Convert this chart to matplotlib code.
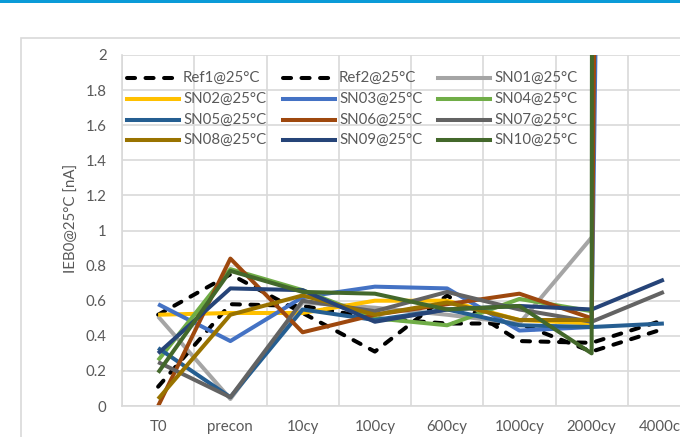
import numpy as np
import matplotlib
matplotlib.use("Agg")
import matplotlib.pyplot as plt
from matplotlib.patches import Rectangle
from matplotlib.lines import Line2D

plt.rcParams['font.family'] = ['Lato', 'DejaVu Sans']

# ---- data -------------------------------------------------------------
categories = ["T0", "precon", "10cy", "100cy", "600cy", "1000cy", "2000cy", "4000cy"]
nan = np.nan
ref1 = [0.52, 0.75, 0.53, 0.31, 0.63, 0.37, 0.36, 0.49]
ref2 = [0.11, 0.58, 0.57, 0.50, 0.47, 0.47, 0.31, 0.44]
sn01 = [0.51, 0.04, 0.59, 0.56, 0.52, 0.47, 0.96, nan]
sn02 = [0.52, 0.53, 0.53, 0.60, 0.60, 0.49, 0.47, nan]
sn03 = [0.58, 0.37, 0.62, 0.68, 0.67, 0.43, 0.45, 30.0]
sn04 = [0.26, 0.78, 0.66, 0.50, 0.46, 0.61, 0.54, nan]
sn05 = [0.33, 0.05, 0.55, 0.49, 0.55, 0.46, 0.45, 0.47]
sn06 = [0.00, 0.84, 0.42, 0.52, 0.58, 0.64, 0.50, 45.0]
sn07 = [0.25, 0.05, 0.60, 0.54, 0.65, 0.55, 0.48, 0.65]
sn08 = [0.04, 0.52, 0.63, 0.52, 0.59, 0.49, 0.49, nan]
sn09 = [0.30, 0.67, 0.66, 0.48, 0.55, 0.57, 0.55, 0.72]
sn10 = [0.19, 0.77, 0.65, 0.64, 0.55, 0.57, 0.30, 400.0]

series_names = ["Ref1@25°C", "Ref2@25°C", "SN01@25°C", "SN02@25°C", "SN03@25°C",
                "SN04@25°C", "SN05@25°C", "SN06@25°C", "SN07@25°C", "SN08@25°C",
                "SN09@25°C", "SN10@25°C"]
series_values = [ref1, ref2, sn01, sn02, sn03, sn04, sn05, sn06, sn07, sn08, sn09, sn10]
series_colors = ["#000000", "#000000", "#A5A5A5", "#FFC000", "#4472C4", "#70AD47",
                 "#255E91", "#9E480E", "#636363", "#997300", "#264478", "#43682B"]
series_dashed = [True, True] + [False] * 10

y_ticks = [0, 0.2, 0.4, 0.6, 0.8, 1, 1.2, 1.4, 1.6, 1.8, 2]
y_tick_labels = ["0", "0.2", "0.4", "0.6", "0.8", "1", "1.2", "1.4", "1.6", "1.8", "2"]
y_title = "IEB0@25°C [nA]"

# ---- layout helpers (pixel positions on a 680x437 canvas) --------------
W, H = 680, 437
GRID = "#D9D9D9"
TEXT = "#595959"
FS = 10.8
LW = 2.9


def fx(x):
    return x / W


def fy(y):
    return 1 - y / H


fig = plt.figure(figsize=(W / 100, H / 100), dpi=100)
fig.patch.set_facecolor("white")

# outer chart frame and the accent bar along the top edge
fig.patches.append(Rectangle((fx(20.5), fy(800)), fx(1000), (800 - 37.5) / H,
                             transform=fig.transFigure, fill=False,
                             edgecolor=GRID, lw=1.2))
fig.patches.append(Rectangle((0, fy(3)), 1, 3 / H, transform=fig.transFigure,
                             facecolor="#0A9BD8", edgecolor="none"))

ax = fig.add_axes([fx(122), fy(406), (700 - 122) / W, (406 - 55) / H])
ax.set_facecolor("none")

x = np.arange(len(categories))
for name, vals, col, dashed in zip(series_names, series_values, series_colors, series_dashed):
    if dashed:
        ax.plot(x, vals, color=col, lw=LW, dashes=(2.0, 2.6),
                dash_capstyle="round", dash_joinstyle="round", label=name)
    else:
        ax.plot(x, vals, color=col, lw=LW, solid_joinstyle="round",
                solid_capstyle="butt", label=name)

ax.set_xlim(-0.5, len(categories) - 0.5)
ax.set_ylim(0, 2)
ax.set_yticks(y_ticks, y_tick_labels)
ax.set_xticks(x, categories)
ax.set_xticks(np.arange(-0.5, len(categories), 1), minor=True)
ax.grid(axis="y", which="major", color=GRID, lw=1.2)
ax.grid(axis="x", which="minor", color=GRID, lw=1.2)
ax.grid(axis="x", which="major", visible=False)
ax.set_axisbelow(True)
ax.tick_params(which="both", length=0, labelsize=FS, labelcolor=TEXT)
ax.tick_params(axis="y", pad=11)
ax.tick_params(axis="x", pad=10)
for side in ["top", "right"]:
    ax.spines[side].set_visible(False)
for side in ["left", "bottom"]:
    ax.spines[side].set_color(GRID)
    ax.spines[side].set_linewidth(1.2)

fig.text(fx(72), fy(218), y_title, rotation=90, ha="center", va="center",
         color=TEXT, fontsize=FS)

# legend: three columns, four rows, no frame
col_x = [127, 283, 438]
row_y = [78, 99, 120, 140]
handle_len = 52
for i, (name, col, dashed) in enumerate(zip(series_names, series_colors, series_dashed)):
    r, c = divmod(i, 3)
    x0 = col_x[c]
    y0 = row_y[r]
    ln = Line2D([fx(x0), fx(x0 + handle_len)], [fy(y0), fy(y0)],
                transform=fig.transFigure, color=col, lw=LW)
    if dashed:
        ln.set_dashes((2.0, 2.6))
        ln.set_dash_capstyle("round")
    fig.lines.append(ln)
    fig.text(fx(x0 + handle_len + 4), fy(y0), name, ha="left", va="center",
             color=TEXT, fontsize=FS)

fig.savefig("out.png", dpi=100)
